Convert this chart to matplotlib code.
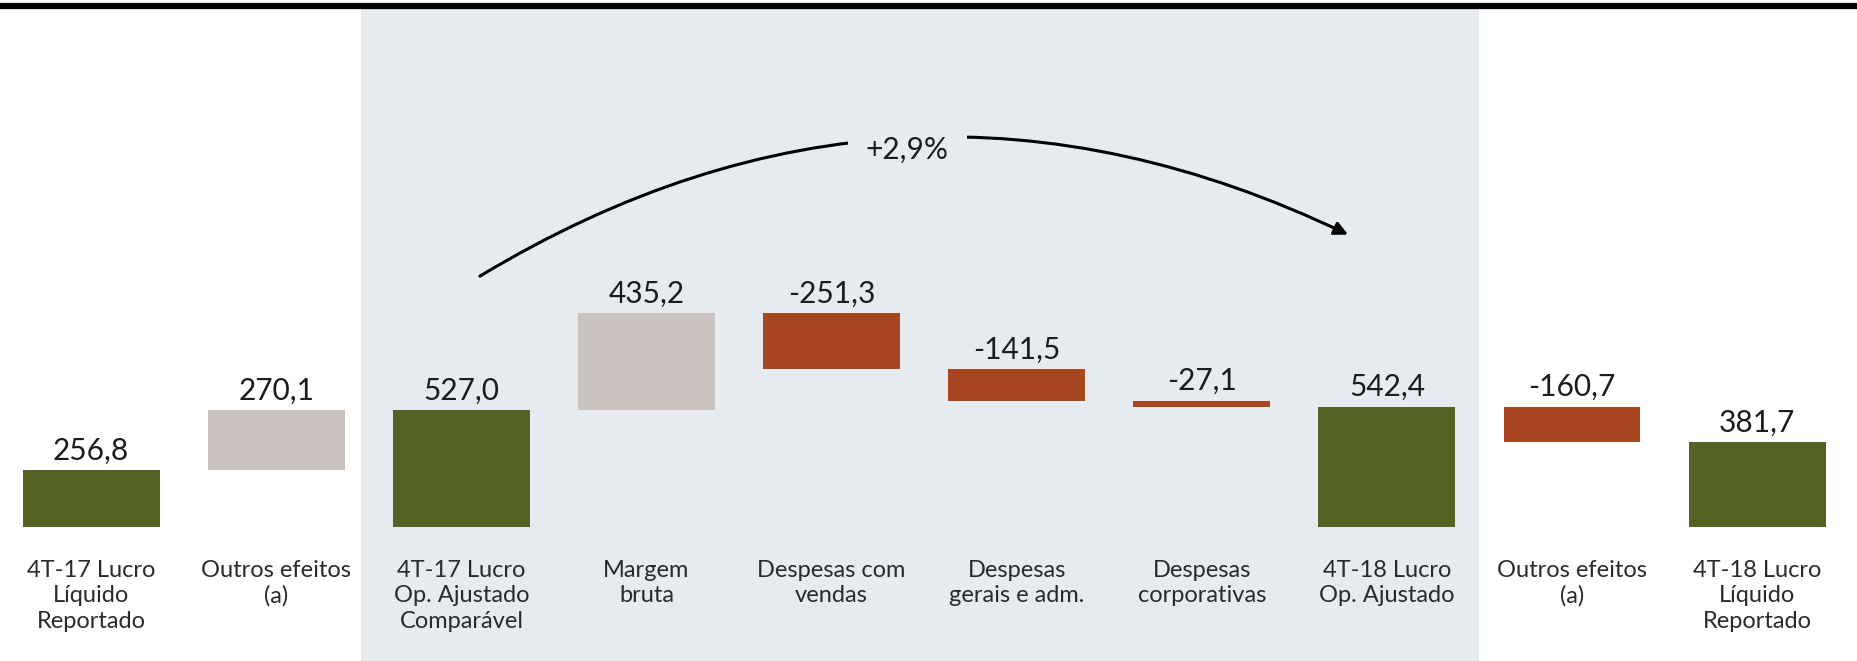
import matplotlib
matplotlib.use("Agg")
import matplotlib.pyplot as plt
from matplotlib.lines import Line2D

plt.rcParams['font.family'] = ['Lato', 'DejaVu Sans']

categories = ["4T-17 Lucro\nLíquido\nReportado", "Outros efeitos\n(a)",
              "4T-17 Lucro\nOp. Ajustado\nComparável", "Margem\nbruta",
              "Despesas com\nvendas", "Despesas\ngerais e adm.",
              "Despesas\ncorporativas", "4T-18 Lucro\nOp. Ajustado",
              "Outros efeitos\n(a)", "4T-18 Lucro\nLíquido\nReportado"]
values = [256.8, 270.1, 527.0, 435.2, -251.3, -141.5, -27.1, 542.4, -160.7, 381.7]
kinds = ["total", "delta", "total", "delta", "delta", "delta", "delta", "total", "delta", "total"]
growth_label = "+2,9%"

GREEN = "#546323"
BEIGE = "#CBC3BF"
RED = "#A84621"
SHADE = "#E6EBEF"
TXT = "#1c1c1c"

W, H = 1857, 661
fig = plt.figure(figsize=(W / 100, H / 100), dpi=100)
ax = fig.add_axes([0, 0, 1, 1])

px_per_unit = 0.222
x0_px = 91.2
step_px = 185.1
base_px = 527
ax.set_xlim(-x0_px / step_px, (W - x0_px) / step_px)
ax.set_ylim(-(H - base_px) / px_per_unit, base_px / px_per_unit)
ax.axis('off')

# shaded region
ax.axvspan(1.458, 7.497, ymin=0, ymax=1 - 9 / H, color=SHADE, zorder=0, lw=0)
fig.add_artist(Line2D([0, 1], [1 - 6 / H, 1 - 6 / H], color='black', lw=4.5,
                      transform=fig.transFigure))

running = 0.0
for i, (v, k) in enumerate(zip(values, kinds)):
    if k == "total":
        bottom, height = 0, v
        color = GREEN
        running = v
        top = v
    else:
        if v >= 0:
            bottom, height = running, v
            color = BEIGE
            top = running + v
        else:
            bottom, height = running + v, -v
            color = RED
            top = running
        running += v
    ax.bar(i, height, bottom=bottom, width=0.74, color=color, zorder=2)
    ax.annotate(f"{v:.1f}".replace('.', ','), (i, top), xytext=(0, 4),
                textcoords='offset points', ha='center', va='bottom',
                fontsize=21.5, color=TXT)
    ax.text(i, -33 / px_per_unit, categories[i], ha='center', va='top',
            fontsize=17, color='#2a2a2a', linespacing=1.26)

# arc arrow
ax.annotate("", xy=(6.79, 1317), xytext=(2.1, 1130),
            arrowprops=dict(arrowstyle='-|>,head_length=0.8,head_width=0.4',
                            connectionstyle='arc3,rad=-0.27', color='black',
                            lw=2.2, shrinkA=0, shrinkB=0), zorder=3)
ax.text(4.41, 1698, growth_label, ha='center', va='center', fontsize=21.5,
        color=TXT, zorder=4,
        bbox=dict(boxstyle='square,pad=0.6', fc=SHADE, ec='none'))

fig.savefig("out.png", dpi=100)
